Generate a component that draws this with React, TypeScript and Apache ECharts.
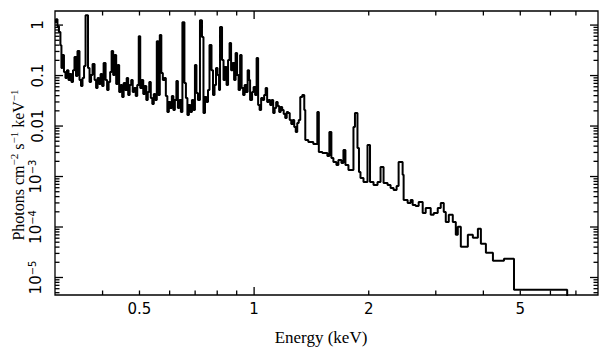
import React, { useEffect, useRef } from "react";
import * as echarts from "echarts";

// Bin lower edges (keV) and flux (photons cm^-2 s^-1 keV^-1)
const binStartKeV: number[] = [
  0.300, 0.3017, 0.3045, 0.3072, 0.3100, 0.3119, 0.3138, 0.3167, 0.3196, 0.3225,
  0.3255, 0.3285, 0.3314, 0.3345, 0.3375, 0.3406, 0.3437, 0.3479, 0.3511, 0.3543,
  0.3576, 0.3609, 0.3663, 0.3697, 0.3731, 0.3765, 0.3811, 0.3846, 0.3881, 0.3917,
  0.3952, 0.3989, 0.4025, 0.4074, 0.4111, 0.4149, 0.4187, 0.4225, 0.4264, 0.4303,
  0.4343, 0.4382, 0.4422, 0.4462, 0.4503, 0.4544, 0.4586, 0.4628, 0.4670, 0.4713,
  0.4756, 0.4800, 0.4843, 0.4888, 0.4933, 0.4978, 0.5023, 0.5069, 0.5115, 0.5162,
  0.5210, 0.5257, 0.5305, 0.5354, 0.5403, 0.5452, 0.5502, 0.5552, 0.5603, 0.5654,
  0.5706, 0.5758, 0.5811, 0.5864, 0.5918, 0.5972, 0.6026, 0.6081, 0.6137, 0.6193,
  0.6250, 0.6307, 0.6364, 0.6423, 0.6482, 0.6561, 0.6621, 0.6681, 0.6742, 0.6804,
  0.6866, 0.6929, 0.6992, 0.7056, 0.7121, 0.7208, 0.7296, 0.7362, 0.7430, 0.7498,
  0.7566, 0.7636, 0.7729, 0.7800, 0.7871, 0.7943, 0.8016, 0.8089, 0.8138, 0.8237,
  0.8312, 0.8389, 0.8466, 0.8543, 0.8621, 0.8700, 0.8780, 0.8860, 0.8941, 0.9022,
  0.9104, 0.9188, 0.9273, 0.9357, 0.9443, 0.9529, 0.9616, 0.9701, 0.9760, 0.9879,
  0.9969, 1.006, 1.0153, 1.0246, 1.0339, 1.0434, 1.0530, 1.0625, 1.0723, 1.0820,
  1.0919, 1.1019, 1.1120, 1.1222, 1.1324, 1.1428, 1.1533, 1.1637, 1.1744, 1.1851,
  1.1959, 1.2069, 1.2180, 1.2291, 1.2403, 1.2517, 1.2631, 1.2746, 1.2863, 1.2980,
  1.3098, 1.3219, 1.3380, 1.3544, 1.3627, 1.3877, 1.4304, 1.4656, 1.4789, 1.5107,
  1.5573, 1.5763, 1.5956, 1.6151, 1.6448, 1.6648, 1.6954, 1.7162, 1.7371, 1.7690,
  1.8235, 1.8401, 1.8682, 1.8853, 1.9026, 1.9376, 1.9851, 2.0155, 2.0588, 2.1093,
  2.1481, 2.1875, 2.2412, 2.2824, 2.3244, 2.3672, 2.3960, 2.4548, 2.4698, 2.5304,
  2.5769, 2.6083, 2.6563, 2.7051, 2.7715, 2.8224, 2.9094, 2.9629, 3.0356, 3.0914,
  3.1482, 3.1866, 3.2451, 3.3248, 3.3859, 3.4272, 3.4902, 3.6416, 3.7537, 3.8693,
  3.9404, 4.0618, 4.2380, 4.5306, 4.8139,
];
const binFlux: number[] = [
  1.14, 1.31, 0.95, 0.73, 0.40, 0.141, 0.254, 0.117, 0.089, 0.128,
  0.0815, 0.107, 0.0744, 0.128, 0.232, 0.0977, 0.305, 0.0815, 0.062, 0.0892,
  0.154, 1.57, 0.141, 0.0744, 0.102, 0.169, 0.0815, 0.0566, 0.0892, 0.0679,
  0.107, 0.062, 0.177, 0.0815, 0.0517, 0.0744, 0.117, 0.305, 0.102, 0.254,
  0.0679, 0.161, 0.0472, 0.0649, 0.0376, 0.0711, 0.0517, 0.0892, 0.0411, 0.0649,
  0.0815, 0.0472, 0.0566, 0.0393, 0.0649, 0.60, 0.0566, 0.0815, 0.0431, 0.062,
  0.0328, 0.0472, 0.0744, 0.0359, 0.0273, 0.0431, 0.0328, 0.48, 0.0411, 0.633,
  0.112, 0.0815, 0.0892, 0.0393, 0.019, 0.0299, 0.0228, 0.0393, 0.0208, 0.0328,
  0.0778, 0.0228, 0.0328, 0.019, 1.14, 0.0711, 0.0359, 0.0165, 0.0261, 0.019,
  0.0328, 0.0208, 0.161, 0.0451, 0.0328, 1.25, 0.578, 0.0181, 0.0376, 0.0299,
  0.0517, 0.401, 0.128, 0.0411, 0.0649, 0.141, 0.102, 0.0517, 0.911, 0.203,
  0.0815, 0.147, 0.0649, 0.203, 0.439, 0.128, 0.177, 0.0815, 0.279, 0.102,
  0.0517, 0.254, 0.0566, 0.0411, 0.0649, 0.0472, 0.128, 0.0815, 0.0328, 0.0472,
  0.0592, 0.0411, 0.222, 0.0261, 0.0208, 0.0359, 0.0328, 0.0411, 0.0566, 0.0299,
  0.0328, 0.0261, 0.0328, 0.0181, 0.0228, 0.0299, 0.0249, 0.019, 0.0238, 0.0208,
  0.0173, 0.0144, 0.019, 0.0181, 0.0132, 0.011, 0.0132, 0.00958, 0.00763, 0.0115,
  0.0132, 0.0376, 0.0411, 0.0208, 0.0053, 0.00484, 0.00441, 0.019, 0.00307, 0.00293,
  0.00256, 0.00763, 0.00233, 0.00194, 0.0017, 0.00213, 0.00186, 0.00336, 0.0017, 0.00135,
  0.00958, 0.0181, 0.00368, 0.00123, 0.000938, 0.000782, 0.00422, 0.000782, 0.000682, 0.000782,
  0.00155, 0.000747, 0.000682, 0.000595, 0.000543, 0.000652, 0.00194, 0.00108, 0.000344, 0.0003,
  0.000344, 0.000274, 0.00026, 0.000314, 0.00019, 0.000239, 0.000174, 0.00019, 0.000239, 0.0003,
  0.000199, 0.000126, 0.000174, 0.000126, 0.00007, 0.000101, 0.0000405, 0.00007, 0.000061, 0.0000919,
  0.0000464, 0.0000308, 0.0000214, 0.0000234, 0.0000057,
];
const lastBinEndKeV = 6.64;

// Axes
const X_MIN = 0.3;
const X_MAX = 8;
const Y_MIN = 4.5e-6;
const Y_MAX = 1.9;
const xLabelValues = [0.5, 1, 2, 5];
const xLongTickValues = [1];
const xShortTickValues = [0.4, 0.5, 0.6, 0.7, 0.8, 0.9, 2, 3, 4, 5, 6, 7];
const yLabelValues = [1e-5, 1e-4, 1e-3, 0.01, 0.1, 1];
const yMantissas = [2, 3, 4, 5, 6, 7, 8, 9];
const yDecades = [-6, -5, -4, -3, -2, -1, 0];

const xTitle = "Energy (keV)";
const yTitleRich = "{t|Photons cm}{s|\u22122}{t| s}{s|\u22121}{t| keV}{s|\u22121}";

const yShortTickValues: number[] = [];
yDecades.forEach((d) =>
  yMantissas.forEach((m) => {
    const v = m * Math.pow(10, d);
    if (v > Y_MIN && v < Y_MAX) yShortTickValues.push(v);
  })
);

const TICK_FONT = "DejaVu Sans";
const TITLE_FONT = "Liberation Serif";
const LONG = 8;
const SHORT = 4.5;

function xLabel(v: number): string {
  return String(+Number(v).toPrecision(3));
}
function yLabel(v: number): string {
  const e = Math.round(Math.log10(v));
  if (e >= -2) return String(+Math.pow(10, e).toPrecision(3));
  return `{b|10}{s|\u2212${-e}}`;
}

export default function App() {
  const ref = useRef<HTMLDivElement>(null);
  useEffect(() => {
    if (!ref.current) return;
    const chart = echarts.init(ref.current, null, { renderer: "svg" });
    const data: number[][] = binStartKeV.map((e, i) => [e, binFlux[i]]);
    data.push([lastBinEndKeV, binFlux[binFlux.length - 1]]);
    data.push([lastBinEndKeV, Y_MIN / 10]);

    const black = "#000";
    const titles: any[] = [
      {
        type: "text",
        x: 321,
        y: 337,
        style: {
          text: xTitle,
          fontSize: 17,
          fontFamily: TITLE_FONT,
          fill: black,
          align: "center",
          verticalAlign: "middle",
        },
      },
      {
        type: "text",
        x: 18,
        y: 165,
        rotation: Math.PI / 2,
        style: {
          text: yTitleRich,
          fill: black,
          align: "center",
          verticalAlign: "middle",
          rich: {
            t: { fontSize: 16, fontFamily: TITLE_FONT, fill: black, lineHeight: 19 },
            s: { fontSize: 11, fontFamily: TITLE_FONT, fill: black, verticalAlign: "top", lineHeight: 13 },
          },
        },
      },
    ];

    chart.setOption({
      animation: false,
      backgroundColor: "#fff",
      grid: {
        left: 55,
        right: 10,
        top: 11,
        bottom: 62,
        containLabel: false,
        outerBoundsMode: "none",
        show: true,
        borderColor: black,
        borderWidth: 1.3,
      },
      xAxis: {
        type: "log",
        logBase: 10,
        min: X_MIN,
        max: X_MAX,
        splitLine: { show: false },
        axisLine: { show: false },
        axisTick: { show: false },
        axisLabel: {
          show: true,
          customValues: xLabelValues,
          formatter: xLabel,
          color: black,
          fontSize: 15,
          fontFamily: TICK_FONT,
          margin: 6,
        },
      },
      yAxis: {
        type: "log",
        logBase: 10,
        min: Y_MIN,
        max: Y_MAX,
        splitLine: { show: false },
        axisLine: { show: false },
        axisTick: { show: false },
        axisLabel: {
          show: true,
          customValues: yLabelValues,
          formatter: yLabel,
          rotate: 90,
          color: black,
          fontSize: 15,
          fontFamily: TICK_FONT,
          margin: 10,
          rich: {
            b: { fontSize: 15, fontFamily: TICK_FONT, color: black, lineHeight: 18 },
            s: { fontSize: 10, fontFamily: TICK_FONT, color: black, verticalAlign: "top", lineHeight: 12 },
          },
        },
      },
      graphic: titles,
      series: [
        {
          type: "line",
          data,
          step: "end",
          showSymbol: false,
          symbol: "none",
          clip: true,
          lineStyle: { color: black, width: 2 },
        },
      ],
    });

    // inward tick marks on all four sides, placed through the axes' own scales
    const xPix = (v: number) => chart.convertToPixel({ xAxisIndex: 0 }, v) as number;
    const yPix = (v: number) => chart.convertToPixel({ yAxisIndex: 0 }, v) as number;
    const left = xPix(X_MIN);
    const right = xPix(X_MAX);
    const top = yPix(Y_MAX);
    const bottom = yPix(Y_MIN);
    const ticks: any[] = [];
    const seg = (x1: number, y1: number, x2: number, y2: number) => ({
      type: "line",
      shape: { x1, y1, x2, y2 },
      style: { stroke: black, lineWidth: 1.3 },
    });
    const addX = (v: number, len: number) => {
      const x = xPix(v);
      ticks.push(seg(x, bottom, x, bottom - len));
      ticks.push(seg(x, top, x, top + len));
    };
    const addY = (v: number, len: number) => {
      const y = yPix(v);
      ticks.push(seg(left, y, left + len, y));
      ticks.push(seg(right, y, right - len, y));
    };
    xLongTickValues.forEach((v) => addX(v, LONG));
    xShortTickValues.forEach((v) => addX(v, SHORT));
    yLabelValues.forEach((v) => addY(v, LONG));
    yShortTickValues.forEach((v) => addY(v, SHORT));

    chart.setOption({ graphic: [...titles, ...ticks] });

    return () => chart.dispose();
  }, []);
  return (
    <div
      ref={ref}
      style={{ position: "fixed", left: 0, top: 0, width: 608, height: 357, background: "#fff" }}
    />
  );
}
